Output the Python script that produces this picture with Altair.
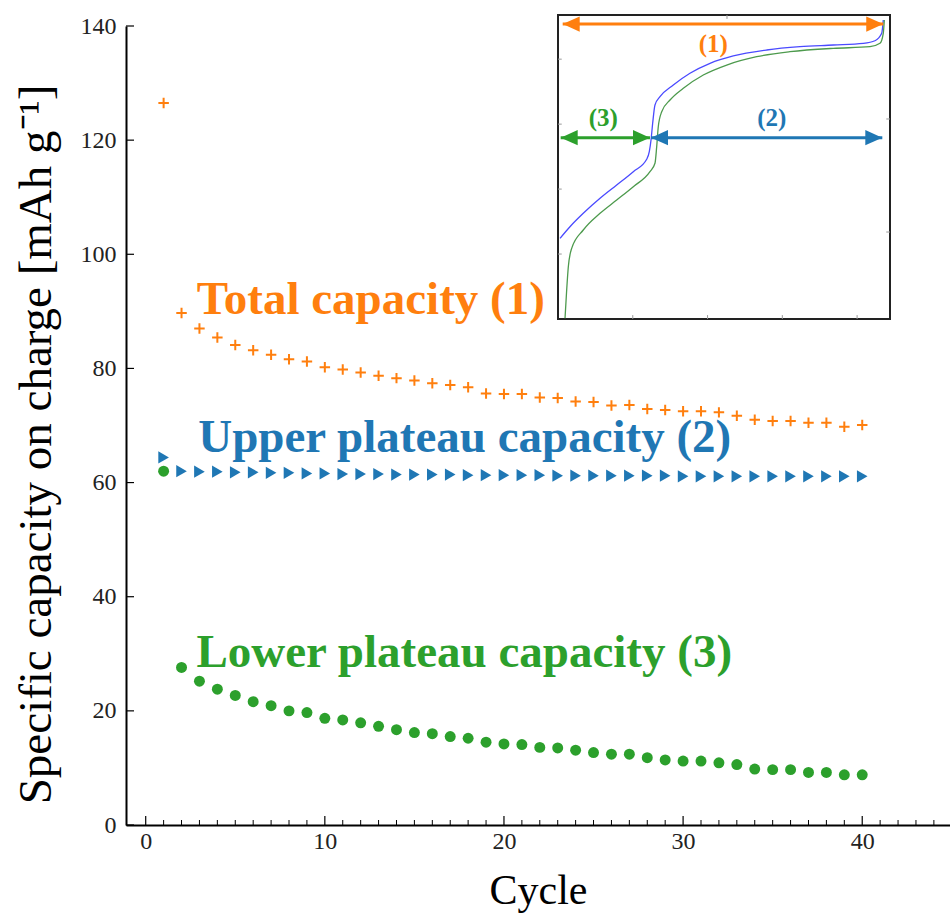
import altair as alt
import pandas as pd

# ---------------- main data ----------------
cycles = list(range(1, 41))
total_capacity = [126.5, 89.7, 87.0, 85.4, 84.1, 83.2, 82.4, 81.6, 81.2, 80.2,
                  79.8, 79.3, 78.7, 78.3, 77.9, 77.4, 77.1, 76.7, 75.6, 75.5,
                  75.5, 74.9, 74.8, 74.2, 74.1, 73.5, 73.6, 72.9, 72.7, 72.5,
                  72.5, 72.3, 71.7, 71.0, 70.8, 70.8, 70.5, 70.5, 69.8, 70.1]
upper_plateau = [64.4, 62.0, 61.9, 61.9, 61.8, 61.8, 61.7, 61.7, 61.6, 61.6,
                 61.5, 61.5, 61.5, 61.4, 61.4, 61.4, 61.4, 61.3, 61.3, 61.3,
                 61.3, 61.3, 61.2, 61.2, 61.2, 61.2, 61.2, 61.2, 61.2, 61.1,
                 61.1, 61.1, 61.1, 61.1, 61.1, 61.1, 61.1, 61.1, 61.1, 61.1]
lower_plateau = [62.0, 27.6, 25.2, 23.8, 22.7, 21.6, 20.9, 20.0, 19.7, 18.7,
                 18.4, 17.9, 17.3, 16.7, 16.2, 16.0, 15.5, 15.2, 14.5, 14.2,
                 14.1, 13.6, 13.5, 13.1, 12.7, 12.4, 12.4, 11.8, 11.4, 11.2,
                 11.2, 10.9, 10.6, 9.8, 9.7, 9.7, 9.2, 9.2, 8.8, 8.8]

annot_text = ["Total capacity (1)", "Upper plateau capacity (2)", "Lower plateau capacity (3)"]
annot_x = [2.85, 2.93, 2.83]
annot_y = [89.5, 65.4, 27.7]
annot_color = ["#ff7f0e", "#1f77b4", "#2ca02c"]

x_major = [0, 10, 20, 30, 40]
x_minor = [i for i in range(0, 45) if i % 10 != 0]
y_ticks = [0, 20, 40, 60, 80, 100, 120, 140]

# ---------------- inset data ----------------
blue_q = [0.027, 0.160, 0.338, 0.562, 0.785, 1.007, 1.186, 1.221, 1.244, 1.266, 1.297, 1.364,
          1.542, 1.765, 2.033, 2.344, 2.791, 3.236, 3.682, 4.083, 4.239, 4.329, 4.350]
blue_v = [1.242, 1.421, 1.627, 1.858, 2.063, 2.268, 2.459, 2.576, 2.756, 3.013, 3.295, 3.422,
          3.602, 3.783, 3.936, 4.049, 4.141, 4.192, 4.218, 4.244, 4.284, 4.398, 4.603]
green_q = [0.094, 0.116, 0.138, 0.183, 0.338, 0.562, 0.785, 1.007, 1.230, 1.297, 1.320, 1.341,
           1.387, 1.498, 1.676, 1.943, 2.256, 2.657, 3.102, 3.682, 4.172, 4.306, 4.350, 4.364]
green_v = [0.011, 0.446, 0.805, 1.088, 1.370, 1.627, 1.832, 2.037, 2.268, 2.397, 2.653, 2.960,
           3.191, 3.371, 3.552, 3.756, 3.910, 4.038, 4.115, 4.167, 4.192, 4.244, 4.398, 4.603]

arrow_label = ["(1)", "(2)", "(3)"]
arrow_color = ["#ff7f0e", "#1f77b4", "#2ca02c"]
arrow_x1 = [0.063, 1.244, 0.036]
arrow_x2 = [4.350, 4.337, 1.230]
arrow_y = [4.541, 2.791, 2.791]
label_x = [2.077, 2.858, 0.606]
label_y = [4.241, 3.102, 3.102]

inset_q_domain = [0, 4.44]
inset_v_domain = [0, 4.68]
inset_ticks_bottom = [1, 2, 3, 4]
inset_ticks_left = [1, 2, 3, 4]
inset_ticks_right = [1.339, 3.079]
inset_ticks_top = [2.26]

# ---------------- layout constants ----------------
W, H = 824, 799
FONT = "Liberation Serif"

xscale = alt.Scale(domain=[-1.1, 44.9], nice=False, zero=False)
yscale = alt.Scale(domain=[0, 140], nice=False, zero=False)

xaxis = alt.Axis(values=x_major, format="d", ticks=False, tickSize=0, grid=False,
                 domainColor="black", domainWidth=2,
                 labelFont=FONT, labelFontSize=24, labelColor="#222", labelPadding=4,
                 title="Cycle", titleFont=FONT, titleFontSize=42, titleFontWeight="normal",
                 titleColor="black", titleY=78, titleBaseline="alphabetic")
yaxis = alt.Axis(values=y_ticks, format="d", ticks=False, tickSize=0, grid=False,
                 domainColor="black", domainWidth=2,
                 labelFont=FONT, labelFontSize=24, labelColor="#222", labelPadding=10,
                 title="Specific capacity on charge  [mAh  g⁻¹]", titleFont=FONT,
                 titleFontSize=47, titleFontWeight="normal", titleColor="black",
                 titleAngle=270, titleX=-76, titleY=418, titleAlign="center",
                 titleBaseline="alphabetic")


def X(f):
    return alt.X(f, type="quantitative", scale=xscale, axis=xaxis)


def Y(f):
    return alt.Y(f, type="quantitative", scale=yscale, axis=yaxis)


df = pd.DataFrame({"cycle": cycles, "total": total_capacity,
                   "upper": upper_plateau, "lower": lower_plateau})

orange = alt.Chart(df).mark_point(shape="M-1,0L1,0M0,-1L0,1", filled=False, size=110,
                                  strokeWidth=2, color="#ff7f0e", opacity=1).encode(
    x=X("cycle"), y=Y("total"))
blue = alt.Chart(df).mark_point(shape="triangle-right", filled=True, size=150,
                                color="#1f77b4", opacity=1).encode(
    x=X("cycle"), y=Y("upper"))
green = alt.Chart(df).mark_circle(size=120, color="#2ca02c", opacity=1).encode(
    x=X("cycle"), y=Y("lower"))

ann_df = pd.DataFrame({"ax": annot_x, "ay": annot_y, "txt": annot_text, "col": annot_color})
annots = alt.Chart(ann_df).mark_text(font=FONT, fontSize=47, fontWeight="bold",
                                     align="left", baseline="alphabetic").encode(
    x=X("ax"), y=Y("ay"), text="txt:N", color=alt.Color("col:N", scale=None))

xmaj = alt.Chart(pd.DataFrame({"t": x_major})).mark_rule(color="black", strokeWidth=1.2).encode(
    x=X("t"), y=alt.value(H), y2=alt.value(H - 9))
xmin = alt.Chart(pd.DataFrame({"t": x_minor})).mark_rule(color="black", strokeWidth=1).encode(
    x=X("t"), y=alt.value(H), y2=alt.value(H - 5))
ytk = alt.Chart(pd.DataFrame({"t": y_ticks})).mark_rule(color="black", strokeWidth=1.2).encode(
    y=Y("t"), x=alt.value(0), x2=alt.value(8))

main = alt.layer(xmaj, xmin, ytk, orange, blue, green, annots)

# ---------------- inset ----------------
XS = alt.Scale(domain=inset_q_domain, range=[432, 764], nice=False, zero=False)
YS = alt.Scale(domain=inset_v_domain, range=[293, -11], nice=False, zero=False)


def IX(f):
    return alt.X(f, type="quantitative", scale=XS, axis=None)


def IY(f):
    return alt.Y(f, type="quantitative", scale=YS, axis=None)


frame_df = pd.DataFrame({"q0": [inset_q_domain[0]], "q1": [inset_q_domain[1]],
                         "v0": [inset_v_domain[0]], "v1": [inset_v_domain[1]]})
frame = alt.Chart(frame_df).mark_rect(fill="white", stroke="#222", strokeWidth=2).encode(
    x=IX("q0"), x2="q1", y=IY("v0"), y2="v1")

tb = alt.Chart(pd.DataFrame({"q": inset_ticks_bottom, "a": 0.0, "b": 0.06})).mark_rule(
    color="#999", strokeWidth=1).encode(x=IX("q"), y=IY("a"), y2="b")
tt = alt.Chart(pd.DataFrame({"q": inset_ticks_top, "a": inset_v_domain[1],
                             "b": inset_v_domain[1] - 0.06})).mark_rule(
    color="#999", strokeWidth=1).encode(x=IX("q"), y=IY("a"), y2="b")
tl = alt.Chart(pd.DataFrame({"v": inset_ticks_left, "a": 0.0, "b": 0.05})).mark_rule(
    color="#999", strokeWidth=1).encode(y=IY("v"), x=IX("a"), x2="b")
tr = alt.Chart(pd.DataFrame({"v": inset_ticks_right, "a": inset_q_domain[1],
                             "b": inset_q_domain[1] - 0.05})).mark_rule(
    color="#999", strokeWidth=1).encode(y=IY("v"), x=IX("a"), x2="b")

bdf = pd.DataFrame({"q": blue_q, "v": blue_v, "i": range(len(blue_q))})
gdf = pd.DataFrame({"q": green_q, "v": green_v, "i": range(len(green_q))})
bline = alt.Chart(bdf).mark_line(color="#4a4aff", strokeWidth=1.3, interpolate="monotone").encode(
    x=IX("q"), y=IY("v"), order="i:Q")
gline = alt.Chart(gdf).mark_line(color="#4d9a4d", strokeWidth=1.3, interpolate="monotone").encode(
    x=IX("q"), y=IY("v"), order="i:Q")

adf = pd.DataFrame({"x1": arrow_x1, "x2": arrow_x2, "y": arrow_y, "col": arrow_color,
                    "lx": label_x, "ly": label_y, "lab": arrow_label})
shafts = alt.Chart(adf).mark_rule(strokeWidth=3).encode(
    x=IX("x1"), x2="x2", y=IY("y"), color=alt.Color("col:N", scale=None))
heads_r = alt.Chart(adf).mark_point(shape="M0,0L-2,-0.9L-2,0.9Z", filled=True, size=289,
                                    opacity=1).encode(
    x=IX("x2"), y=IY("y"), color=alt.Color("col:N", scale=None))
heads_l = alt.Chart(adf).mark_point(shape="M0,0L2,-0.9L2,0.9Z", filled=True, size=289,
                                    opacity=1).encode(
    x=IX("x1"), y=IY("y"), color=alt.Color("col:N", scale=None))
labels = alt.Chart(adf).mark_text(font=FONT, fontSize=25, fontWeight="bold", align="center",
                                  baseline="middle").encode(
    x=IX("lx"), y=IY("ly"), text="lab:N", color=alt.Color("col:N", scale=None))

inset = alt.layer(frame, tb, tt, tl, tr, bline, gline, shafts, heads_r, heads_l, labels)

chart = alt.layer(main, inset).resolve_scale(x="independent", y="independent").properties(
    width=W, height=H,
    autosize=alt.AutoSizeParams(type="none"),
    padding={"left": 126, "top": 26, "right": 0, "bottom": 94},
    background="white",
).configure_view(stroke=None)

chart.save("out.html", embed_options={"renderer": "svg", "actions": False})
